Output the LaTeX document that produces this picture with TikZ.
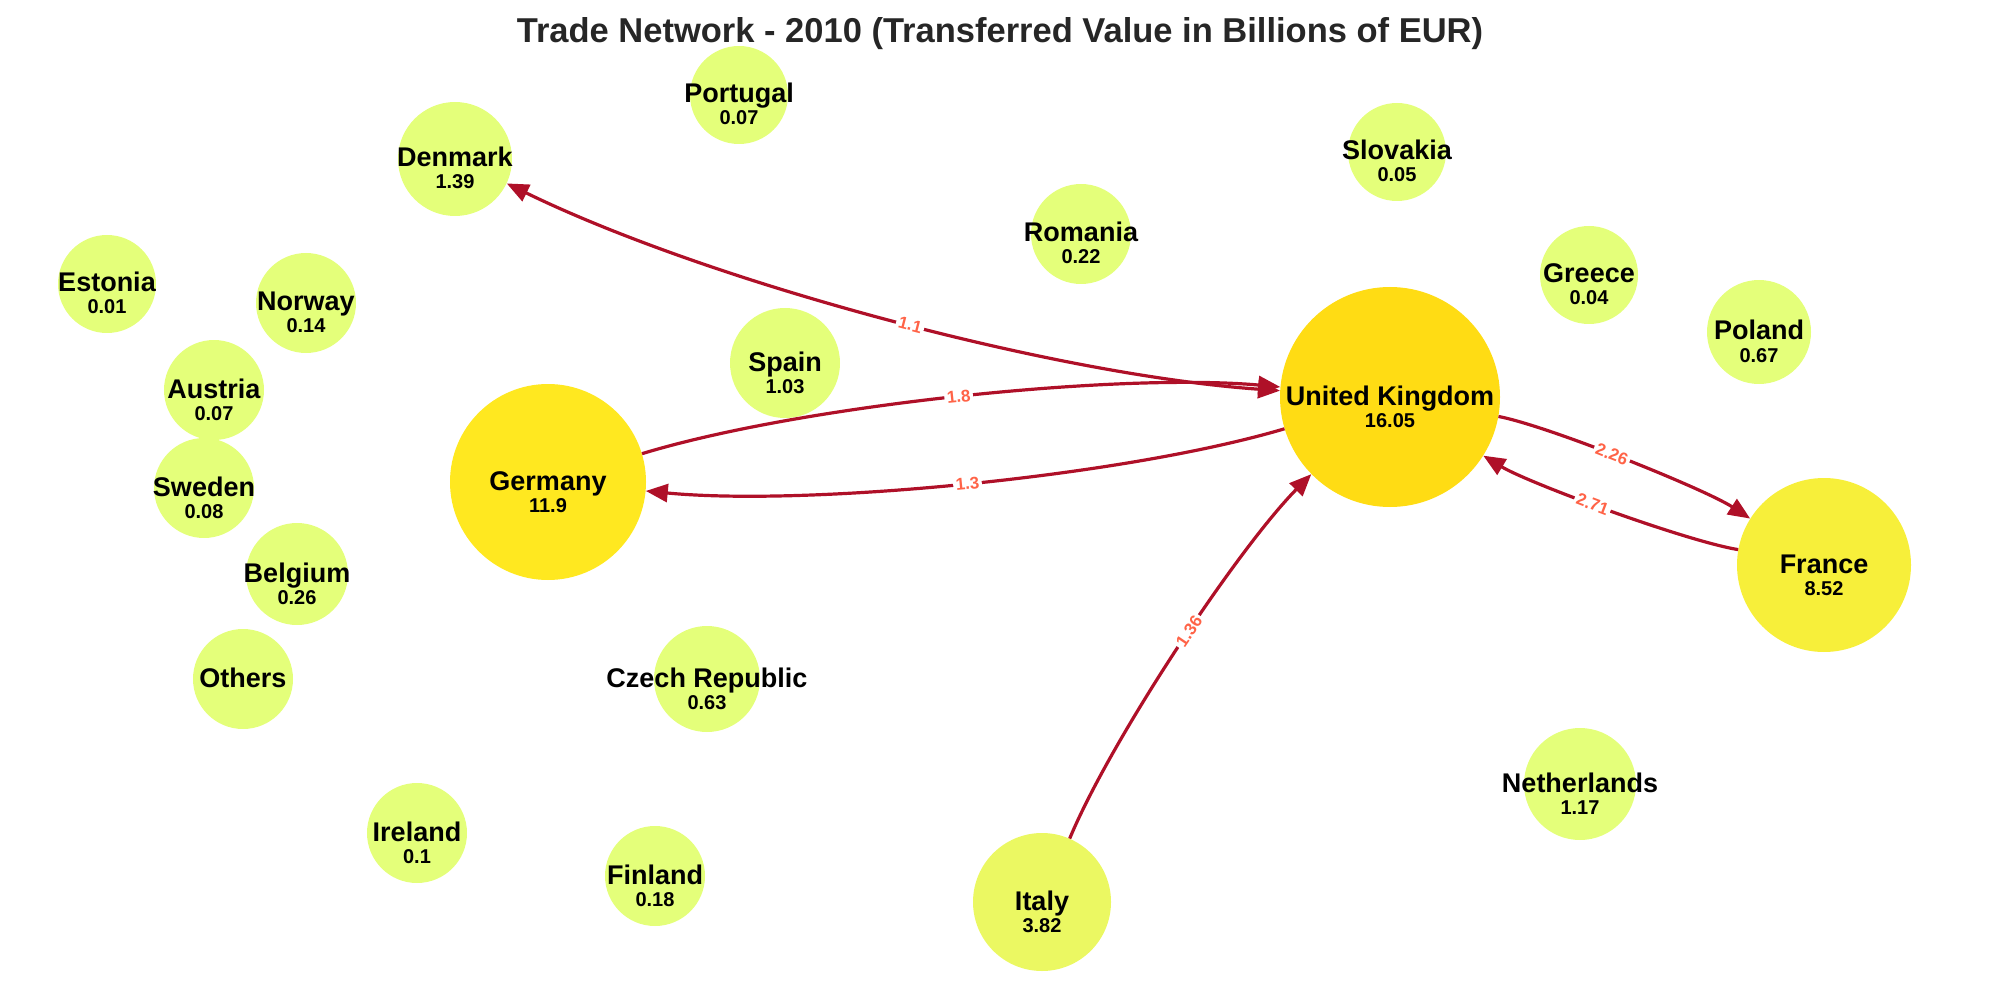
\documentclass[tikz,border=0pt]{standalone}
\usepackage{fontspec}
\setmainfont{Liberation Sans}
\usetikzlibrary{arrows.meta}
\definecolor{smallc}{HTML}{E4FF7A}
\definecolor{ukc}{HTML}{FFDC14}
\definecolor{dec}{HTML}{FFE820}
\definecolor{frc}{HTML}{F7EF3A}
\definecolor{itc}{HTML}{EBF862}
\definecolor{edgec}{HTML}{AF1028}
\definecolor{elab}{HTML}{FF6347}
\definecolor{titlec}{HTML}{262626}
\newcommand\cty[7]{%
  \node[country=#4pt, fill=#5] (#1) at (#2,#3) {};
  \node[cname] (#1n) at (#2,#3+8) {#6};
  \node[cval] (#1v) at (#2,#3+30) {#7};
}
\begin{document}
\begin{tikzpicture}[x=1pt,y=-1pt,
  country/.style={circle, draw=none, inner sep=0pt, minimum size=#1},
  cname/.style={anchor=base, font=\fontsize{27}{27}\selectfont\bfseries, inner sep=0pt},
  cval/.style={anchor=base, font=\fontsize{20}{20}\selectfont\bfseries, inner sep=0pt},
  tip/.tip={Triangle[length=22pt,width=18pt]},
  flow/.style={draw=edgec, line width=3.2pt, -tip},
  elabel/.style={sloped, fill=white, inner sep=2.5pt, text=elab, font=\fontsize{17}{17}\selectfont\bfseries}
]
\useasboundingbox (0,0) rectangle (2000,1000);
\node[anchor=base, text=titlec, font=\fontsize{34.5}{34.5}\selectfont\bfseries] (title) at (1000,43) {Trade Network - 2010 (Transferred Value in Billions of EUR)};

\cty{pt}{739}{95}{98}{smallc}{Portugal}{0.07}
\cty{dk}{455}{159}{114}{smallc}{Denmark}{1.39}
\cty{sk}{1397}{152}{98}{smallc}{Slovakia}{0.05}
\cty{ro}{1081}{234}{100}{smallc}{Romania}{0.22}
\cty{gr}{1589}{275}{98}{smallc}{Greece}{0.04}
\cty{ee}{107}{284}{98}{smallc}{Estonia}{0.01}
\cty{no}{306}{303}{100}{smallc}{Norway}{0.14}
\cty{pl}{1759}{332}{104}{smallc}{Poland}{0.67}
\cty{at}{214}{390}{100}{smallc}{Austria}{0.07}
\cty{es}{785}{363}{110}{smallc}{Spain}{1.03}
\cty{uk}{1390}{397}{220}{ukc}{United Kingdom}{16.05}
\cty{de}{548}{482}{196}{dec}{Germany}{11.9}
\cty{se}{204}{488}{100}{smallc}{Sweden}{0.08}
\cty{be}{297}{574}{102}{smallc}{Belgium}{0.26}
\cty{fr}{1824}{565}{174}{frc}{France}{8.52}
\node[country=100pt, fill=smallc] (ot) at (243,679) {};
\node[cname] (otn) at (243,687) {Others};
\cty{cz}{707}{679}{106}{smallc}{Czech Republic}{0.63}
\cty{nl}{1580}{784}{112}{smallc}{Netherlands}{1.17}
\cty{ie}{417}{833}{100}{smallc}{Ireland}{0.1}
\cty{fi}{655}{876}{100}{smallc}{Finland}{0.18}
\cty{it}{1042}{902}{138}{itc}{Italy}{3.82}

\draw[flow] (de) to[bend left=11, looseness=0.66] node[elabel, pos=0.5]{1.8} (uk);
\draw[flow] (uk) to[bend left=11, looseness=0.66] node[elabel, pos=0.5]{1.3} (de);
\draw[flow] (uk) to[bend left=11, looseness=0.5] node[elabel, pos=0.45]{2.26} (fr);
\draw[flow] (fr) to[bend left=11, looseness=0.5] node[elabel, pos=0.55]{2.71} (uk);
\draw[flow] (it) to[bend left=11, looseness=0.62] node[elabel, pos=0.54]{1.36} (uk);
\draw[flow, tip-tip] (uk) to[bend left=11, looseness=0.72] node[elabel, pos=0.47]{1.1} (dk);
\end{tikzpicture}
\end{document}
